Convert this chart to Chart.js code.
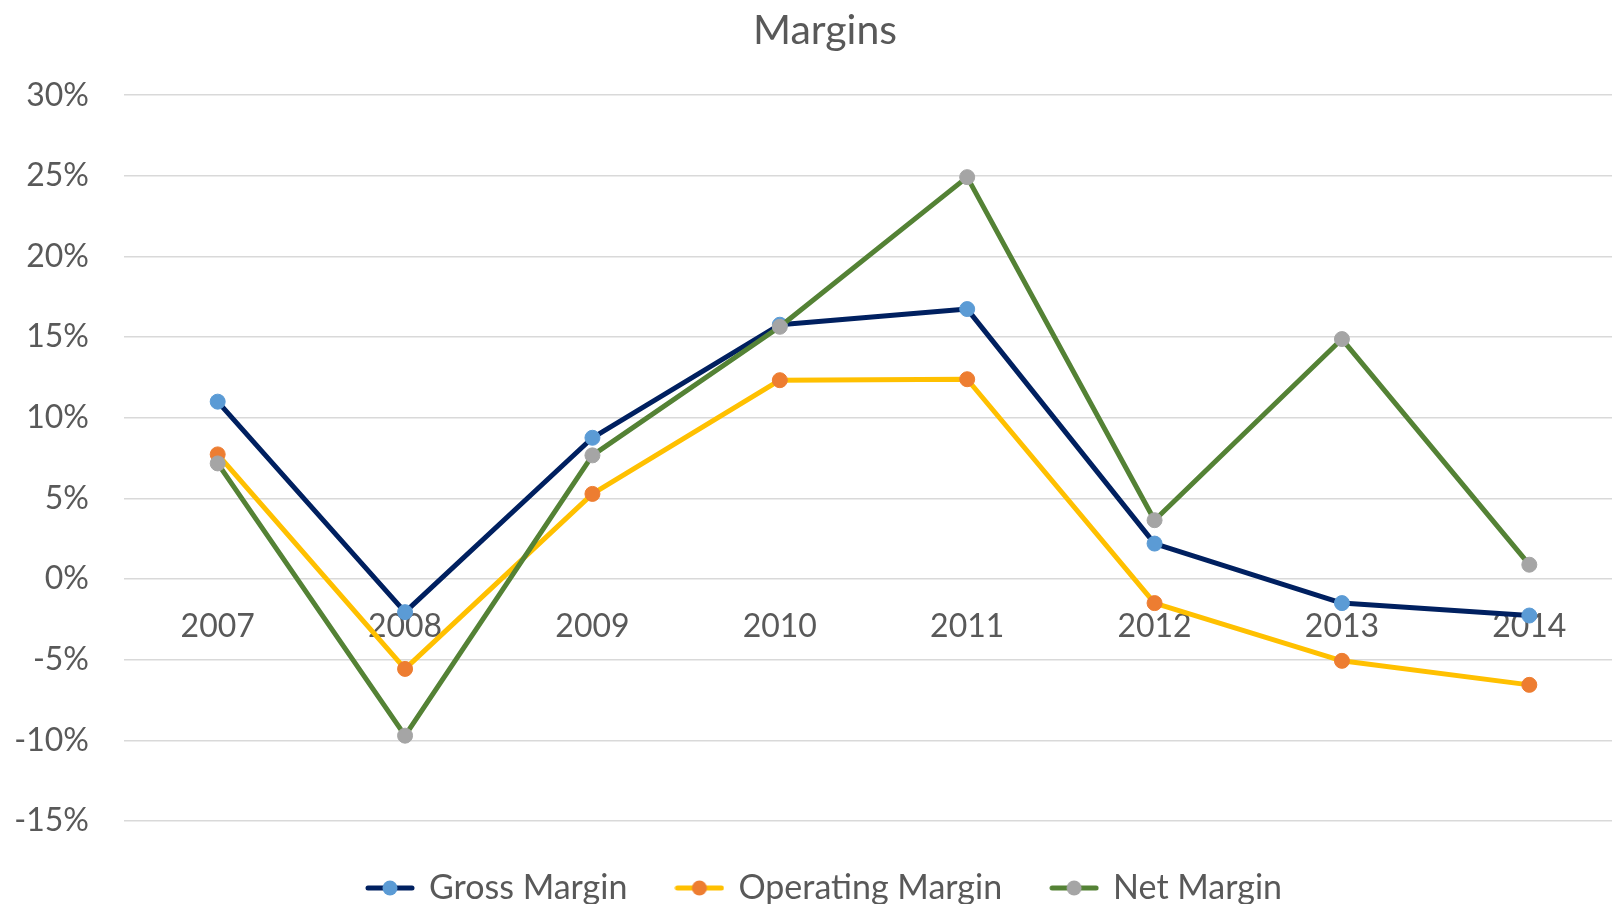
<!DOCTYPE html>
<html>
<head>
<meta charset="utf-8">
<script src="https://cdn.jsdelivr.net/npm/chart.js@4"></script>
<style>
    html, body { margin: 0; padding: 0; overflow: hidden; background: #fff; }
    #wrap { width: 1650px; height: 915px; }
</style>
</head>
<body>
<div id="wrap"><canvas id="marginChart"></canvas></div>
<script>
// --- DATA ---
const years = ['2007', '2008', '2009', '2010', '2011', '2012', '2013', '2014'];
const grossMargin = [11.0, -2.05, 8.76, 15.77, 16.74, 2.2, -1.49, -2.26];
const operatingMargin = [7.73, -5.57, 5.28, 12.33, 12.39, -1.49, -5.07, -6.56];
const netMargin = [7.17, -9.71, 7.67, 15.64, 24.92, 3.65, 14.88, 0.89];

const yMin = -15, yMax = 30, yStep = 5;

const TXT = '#595959';
const FONT = 'Lato';

// Excel-like legend key: short line with the marker in the middle
function legendSymbol(lineColor, dotColor) {
    const c = document.createElement('canvas');
    c.width = 50; c.height = 18;
    const g = c.getContext('2d');
    g.strokeStyle = lineColor; g.lineWidth = 5; g.lineCap = 'round';
    g.beginPath(); g.moveTo(3, 9); g.lineTo(47, 9); g.stroke();
    g.fillStyle = dotColor;
    g.beginPath(); g.arc(25, 9, 7.5, 0, Math.PI * 2); g.fill();
    return c;
}

function series(label, data, line, dot, order) {
    return {
        label, data, order,
        borderColor: line, borderWidth: 5, borderJoinStyle: 'round', borderCapStyle: 'round',
        pointBackgroundColor: dot, pointBorderColor: dot, pointBorderWidth: 1,
        pointRadius: 7.5, pointHoverRadius: 7.5, tension: 0, fill: false
    };
}

window.onload = function() {
    new Chart(document.getElementById('marginChart').getContext('2d'), {
        type: 'line',
        data: {
            labels: years,
            datasets: [
                series('Gross Margin', grossMargin, '#002060', '#5b9bd5', 2),
                series('Operating Margin', operatingMargin, '#ffc000', '#ed7d31', 1),
                series('Net Margin', netMargin, '#548235', '#a5a5a5', 0)
            ]
        },
        options: {
            responsive: true, maintainAspectRatio: false, animation: false,
            layout: { padding: 0 },
            plugins: {
                title: {
                    display: true, text: 'Margins', color: TXT,
                    font: { family: FONT, size: 41, weight: 'normal' },
                    padding: { top: 6, bottom: 40 }
                },
                legend: {
                    position: 'bottom',
                    labels: {
                        usePointStyle: true, pointStyleWidth: 44, padding: 50,
                        color: TXT, font: { family: FONT, size: 34 },
                        generateLabels: chart => chart.data.datasets.map((ds, i) => ({
                            text: ds.label, datasetIndex: i, hidden: false,
                            pointStyle: legendSymbol(ds.borderColor, ds.pointBackgroundColor),
                            fontColor: TXT, lineWidth: 0, strokeStyle: 'transparent', fillStyle: 'transparent'
                        }))
                    }
                },
                tooltip: { enabled: false }
            },
            scales: {
                x: {
                    position: { y: 0 }, offset: true,
                    grid: { display: false, drawTicks: false }, border: { display: false },
                    ticks: { color: TXT, font: { family: FONT, size: 32 }, padding: 28, maxRotation: 0 }
                },
                y: {
                    min: yMin, max: yMax,
                    afterFit: s => { s.width = 124; },
                    grid: { color: '#d9d9d9', lineWidth: 1.5, drawTicks: false }, border: { display: false },
                    ticks: { stepSize: yStep, color: TXT, font: { family: FONT, size: 32 }, padding: 35, callback: v => v + '%' }
                },
                // empty right-hand spacer so the plot stops short of the edge
                yRight: {
                    position: 'right', afterFit: s => { s.width = 27; },
                    grid: { display: false, drawTicks: false }, border: { display: false },
                    ticks: { display: false }
                }
            }
        }
    });
};
</script>
</body>
</html>
